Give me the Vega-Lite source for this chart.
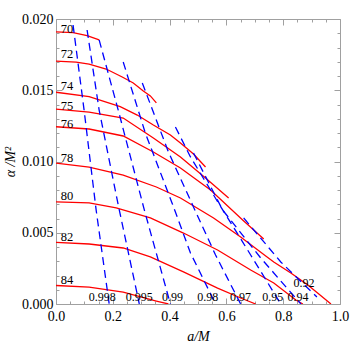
{
  "$schema": "https://vega.github.io/schema/vega-lite/v6.json",
  "width": 284,
  "height": 285,
  "autosize": "none",
  "padding": {"left": 56, "top": 19, "right": 20, "bottom": 39},
  "background": "white",
  "config": {
    "view": {"stroke": null},
    "font": "Liberation Serif",
    "axis": {
      "labelFont": "Liberation Serif",
      "labelFontSize": 14,
      "labelColor": "black",
      "titleFont": "Liberation Serif",
      "titleFontSize": 14,
      "titleFontWeight": "normal",
      "titleFontStyle": "italic",
      "titleColor": "black",
      "domainColor": "#a0a0a0",
      "tickColor": "#a0a0a0",
      "grid": false
    }
  },
  "datasets": {
    "red": [
      {"c": "70", "a": 0, "al": 0.01909}, {"c": "70", "a": 0.0601, "al": 0.01905}, {"c": "70", "a": 0.1095, "al": 0.01884}, {"c": "70", "a": 0.1519, "al": 0.01853},
      {"c": "72", "a": 0, "al": 0.01705}, {"c": "72", "a": 0.0707, "al": 0.01698}, {"c": "72", "a": 0.1166, "al": 0.01684}, {"c": "72", "a": 0.1767, "al": 0.01649}, {"c": "72", "a": 0.2332, "al": 0.01593}, {"c": "72", "a": 0.2721, "al": 0.01551}, {"c": "72", "a": 0.3074, "al": 0.01495}, {"c": "72", "a": 0.3322, "al": 0.0146}, {"c": "72", "a": 0.3534, "al": 0.01411},
      {"c": "74", "a": 0, "al": 0.01486}, {"c": "74", "a": 0.1166, "al": 0.01455}, {"c": "74", "a": 0.2261, "al": 0.01385}, {"c": "74", "a": 0.2862, "al": 0.01326}, {"c": "74", "a": 0.3428, "al": 0.01256}, {"c": "74", "a": 0.4028, "al": 0.01186}, {"c": "74", "a": 0.4382, "al": 0.0113}, {"c": "74", "a": 0.4841, "al": 0.01053}, {"c": "74", "a": 0.5265, "al": 0.00961},
      {"c": "75", "a": 0, "al": 0.01368}, {"c": "75", "a": 0.1166, "al": 0.01347}, {"c": "75", "a": 0.2367, "al": 0.01305}, {"c": "75", "a": 0.3428, "al": 0.01165}, {"c": "75", "a": 0.4382, "al": 0.01032}, {"c": "75", "a": 0.5265, "al": 0.00884}, {"c": "75", "a": 0.6078, "al": 0.00744},
      {"c": "76", "a": 0, "al": 0.01244}, {"c": "76", "a": 0.1166, "al": 0.01228}, {"c": "76", "a": 0.2367, "al": 0.01179}, {"c": "76", "a": 0.3428, "al": 0.01067}, {"c": "76", "a": 0.4382, "al": 0.00954}, {"c": "76", "a": 0.5442, "al": 0.008}, {"c": "76", "a": 0.6572, "al": 0.00589}, {"c": "76", "a": 0.7314, "al": 0.00456},
      {"c": "78", "a": 0, "al": 0.00989}, {"c": "78", "a": 0.1166, "al": 0.00961}, {"c": "78", "a": 0.2367, "al": 0.00905}, {"c": "78", "a": 0.3534, "al": 0.00821}, {"c": "78", "a": 0.4382, "al": 0.00744}, {"c": "78", "a": 0.5548, "al": 0.00604}, {"c": "78", "a": 0.6502, "al": 0.0047}, {"c": "78", "a": 0.7385, "al": 0.00337}, {"c": "78", "a": 0.7668, "al": 0.00295}, {"c": "78", "a": 0.8269, "al": 0.00218}, {"c": "78", "a": 0.8869, "al": 0.00133}, {"c": "78", "a": 0.9682, "al": 0},
      {"c": "80", "a": 0, "al": 0.00716}, {"c": "80", "a": 0.1166, "al": 0.00709}, {"c": "80", "a": 0.212, "al": 0.00674}, {"c": "80", "a": 0.3322, "al": 0.00604}, {"c": "80", "a": 0.4488, "al": 0.00498}, {"c": "80", "a": 0.5689, "al": 0.00379}, {"c": "80", "a": 0.6855, "al": 0.00239}, {"c": "80", "a": 0.7668, "al": 0.00147}, {"c": "80", "a": 0.8445, "al": 0.00028}, {"c": "80", "a": 0.8693, "al": 0},
      {"c": "82", "a": 0, "al": 0.00432}, {"c": "82", "a": 0.1166, "al": 0.00421}, {"c": "82", "a": 0.2367, "al": 0.00393}, {"c": "82", "a": 0.3322, "al": 0.0033}, {"c": "82", "a": 0.4488, "al": 0.00225}, {"c": "82", "a": 0.5689, "al": 0.00112}, {"c": "82", "a": 0.6502, "al": 0.00042}, {"c": "82", "a": 0.7032, "al": 0},
      {"c": "84", "a": 0, "al": 0.0013}, {"c": "84", "a": 0.1166, "al": 0.00119}, {"c": "84", "a": 0.2367, "al": 0.00084}, {"c": "84", "a": 0.3534, "al": 0.00021}, {"c": "84", "a": 0.3958, "al": 0}
    ],
    "blue": [
      {"c": "0.998", "a": 0.0601, "al": 0.01958}, {"c": "0.998", "a": 0.0989, "al": 0.01361}, {"c": "0.998", "a": 0.1413, "al": 0.0066}, {"c": "0.998", "a": 0.1873, "al": 0},
      {"c": "0.995", "a": 0.1095, "al": 0.01923}, {"c": "0.995", "a": 0.1519, "al": 0.01361}, {"c": "0.995", "a": 0.2191, "al": 0.00695}, {"c": "0.995", "a": 0.2933, "al": 0},
      {"c": "0.99", "a": 0.1519, "al": 0.01853}, {"c": "0.99", "a": 0.2191, "al": 0.01361}, {"c": "0.99", "a": 0.311, "al": 0.0066}, {"c": "0.99", "a": 0.4028, "al": 0},
      {"c": "0.98", "a": 0.2367, "al": 0.01698}, {"c": "0.98", "a": 0.3145, "al": 0.012}, {"c": "0.98", "a": 0.4099, "al": 0.00702}, {"c": "0.98", "a": 0.4735, "al": 0.00358}, {"c": "0.98", "a": 0.5618, "al": 0},
      {"c": "0.97", "a": 0.3039, "al": 0.01551}, {"c": "0.97", "a": 0.3958, "al": 0.01067}, {"c": "0.97", "a": 0.4841, "al": 0.00681}, {"c": "0.97", "a": 0.5618, "al": 0.00344}, {"c": "0.97", "a": 0.6502, "al": 0},
      {"c": "0.95", "a": 0.4205, "al": 0.01242}, {"c": "0.95", "a": 0.4735, "al": 0.01032}, {"c": "0.95", "a": 0.5654, "al": 0.0073}, {"c": "0.95", "a": 0.6855, "al": 0.00344}, {"c": "0.95", "a": 0.7915, "al": 0},
      {"c": "0.94", "a": 0.4841, "al": 0.0106}, {"c": "0.94", "a": 0.5866, "al": 0.0066}, {"c": "0.94", "a": 0.7208, "al": 0.00323}, {"c": "0.94", "a": 0.8622, "al": 0},
      {"c": "0.92", "a": 0.6608, "al": 0.00604}, {"c": "0.92", "a": 0.7915, "al": 0.00295}, {"c": "0.92", "a": 0.9187, "al": 0.00049}
    ],
    "redlab": [
      {"t": "70", "a": 0.039, "al": 0.0193},
      {"t": "72", "a": 0.039, "al": 0.01754},
      {"t": "74", "a": 0.039, "al": 0.0153},
      {"t": "75", "a": 0.039, "al": 0.01389},
      {"t": "76", "a": 0.039, "al": 0.01263},
      {"t": "78", "a": 0.039, "al": 0.01025},
      {"t": "80", "a": 0.039, "al": 0.00758},
      {"t": "82", "a": 0.039, "al": 0.0047},
      {"t": "84", "a": 0.039, "al": 0.00168}
    ],
    "bluelab": [
      {"t": "0.998", "a": 0.163, "al": 0.00049},
      {"t": "0.995", "a": 0.293, "al": 0.00049},
      {"t": "0.99", "a": 0.41, "al": 0.00049},
      {"t": "0.98", "a": 0.534, "al": 0.00049},
      {"t": "0.97", "a": 0.65, "al": 0.00049},
      {"t": "0.95", "a": 0.763, "al": 0.00049},
      {"t": "0.94", "a": 0.852, "al": 0.00049},
      {"t": "0.92", "a": 0.873, "al": 0.00147}
    ]
  },
  "layer": [
    {
      "data": {"name": "red"},
      "mark": {"type": "line", "color": "#ff0000", "strokeWidth": 1.3, "clip": true},
      "encoding": {
        "x": {"field": "a", "type": "quantitative", "scale": {"domain": [0, 1], "nice": false},
          "axis": {"orient": "bottom", "title": "a/M",
            "values": [0, 0.05, 0.1, 0.15, 0.2, 0.25, 0.3, 0.35, 0.4, 0.45, 0.5, 0.55, 0.6, 0.65, 0.7, 0.75, 0.8, 0.85, 0.9, 0.95, 1],
            "labelExpr": "round(datum.value*20)%4==0 ? format(datum.value,'.1f') : ''",
            "tickSize": {"condition": {"test": "round(datum.value*20)%4==0", "value": -6}, "value": -3},
            "labelPadding": 11, "titlePadding": 6, "labelFlush": false}},
        "y": {"field": "al", "type": "quantitative", "scale": {"domain": [0, 0.02], "nice": false},
          "axis": {"orient": "left", "title": "α /M²",
            "values": [0, 0.001, 0.002, 0.003, 0.004, 0.005, 0.006, 0.007, 0.008, 0.009, 0.01, 0.011, 0.012, 0.013, 0.014, 0.015, 0.016, 0.017, 0.018, 0.019, 0.02],
            "labelExpr": "round(datum.value*1000)%5==0 ? format(datum.value,'.3f') : ''",
            "tickSize": {"condition": {"test": "round(datum.value*1000)%5==0", "value": -6}, "value": -3},
            "labelPadding": 9, "titlePadding": 4, "labelFlush": false}},
        "detail": {"field": "c"}
      }
    },
    {
      "data": {"name": "blue"},
      "mark": {"type": "line", "color": "#0000ff", "strokeWidth": 1.3, "strokeDash": [8, 5], "clip": true},
      "encoding": {
        "x": {"field": "a", "type": "quantitative", "scale": {"domain": [0, 1], "nice": false},
          "axis": {"orient": "top", "title": null, "labels": false,
            "values": [0, 0.05, 0.1, 0.15, 0.2, 0.25, 0.3, 0.35, 0.4, 0.45, 0.5, 0.55, 0.6, 0.65, 0.7, 0.75, 0.8, 0.85, 0.9, 0.95, 1],
            "tickSize": {"condition": {"test": "round(datum.value*20)%4==0", "value": -6}, "value": -3}}},
        "y": {"field": "al", "type": "quantitative", "scale": {"domain": [0, 0.02], "nice": false},
          "axis": {"orient": "right", "title": null, "labels": false,
            "values": [0, 0.001, 0.002, 0.003, 0.004, 0.005, 0.006, 0.007, 0.008, 0.009, 0.01, 0.011, 0.012, 0.013, 0.014, 0.015, 0.016, 0.017, 0.018, 0.019, 0.02],
            "tickSize": {"condition": {"test": "round(datum.value*1000)%5==0", "value": -6}, "value": -3}}},
        "detail": {"field": "c"}
      }
    },
    {
      "data": {"name": "redlab"},
      "mark": {"type": "text", "font": "Liberation Serif", "fontSize": 12.5, "align": "center", "baseline": "middle", "color": "black"},
      "encoding": {
        "x": {"field": "a", "type": "quantitative", "axis": null},
        "y": {"field": "al", "type": "quantitative", "axis": null},
        "text": {"field": "t"}
      }
    },
    {
      "data": {"name": "bluelab"},
      "mark": {"type": "text", "font": "Liberation Serif", "fontSize": 12, "align": "center", "baseline": "middle", "color": "black"},
      "encoding": {
        "x": {"field": "a", "type": "quantitative", "axis": null},
        "y": {"field": "al", "type": "quantitative", "axis": null},
        "text": {"field": "t"}
      }
    }
  ],
  "resolve": {"axis": {"x": "independent", "y": "independent"}}
}
